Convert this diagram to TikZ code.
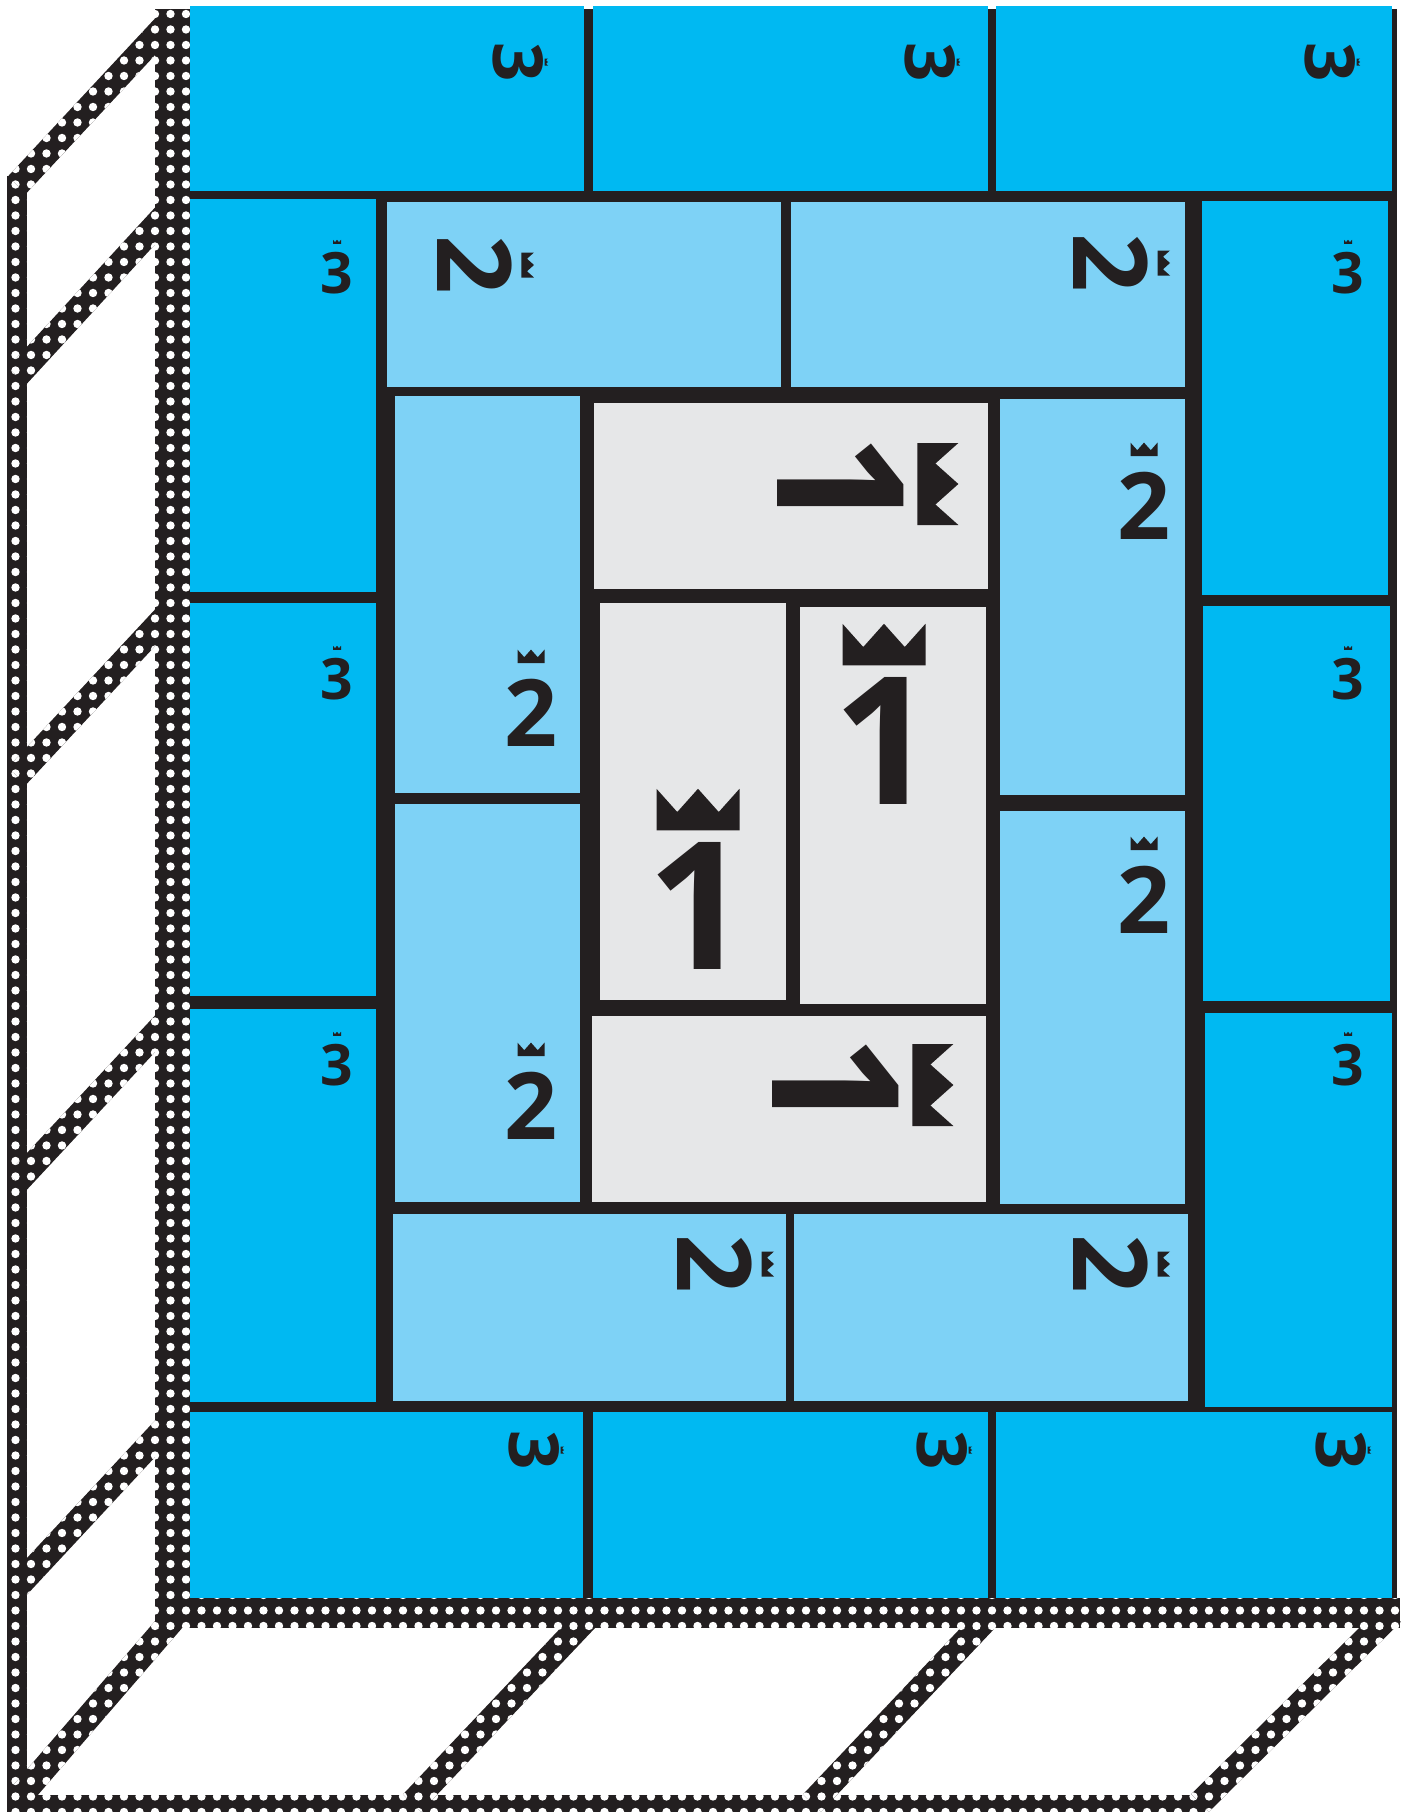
\documentclass[tikz,border=0pt]{standalone}
\usepackage{fontspec}
\newfontfamily\numfont{Open Sans}
\usetikzlibrary{calc,patterns}

\definecolor{ink}{HTML}{231F20}
\definecolor{cyanblue}{HTML}{00B9F2}
\definecolor{skyblue}{HTML}{7ED2F6}
\definecolor{palegrey}{HTML}{E6E7E8}

% white holes punched in the black rack frame
\pgfdeclarepatternformonly{holes}{\pgfqpoint{-7.7pt}{-7.7pt}}{\pgfqpoint{7.7pt}{7.7pt}}{\pgfqpoint{15.5pt}{15.5pt}}{%
  \pgfpathcircle{\pgfpointorigin}{4.2pt}\pgfusepath{fill}}

\begin{document}
\begin{tikzpicture}[
            x=1pt, y=-1pt,
            rackband/.style={preaction={fill=ink}, pattern=holes, pattern color=white},
            outerbox/.style={fill=cyanblue},
            middlebox/.style={fill=skyblue},
            innerbox/.style={fill=palegrey},
            num/.style={inner sep=0pt, text=ink},
            numthree/.style={num, font=\numfont\bfseries\fontsize{57}{57}\selectfont},
            numthreer/.style={num, font=\numfont\bfseries\fontsize{69}{69}\selectfont, rotate=-90},
            numtwo/.style={num, font=\numfont\bfseries\fontsize{93}{93}\selectfont},
            numtwor/.style={num, font=\numfont\bfseries\fontsize{103}{103}\selectfont, rotate=-90},
            numone/.style={num, font=\numfont\bfseries\fontsize{178}{178}\selectfont},
            numoner/.style={num, font=\numfont\bfseries\fontsize{177}{177}\selectfont, rotate=-90},
            crown/.pic={\fill[ink] (-0.5,0) -- (-0.5,-0.5) -- (-0.25,-0.22) -- (0,-0.5)
                -- (0.25,-0.22) -- (0.5,-0.5) -- (0.5,0) -- cycle;}
        ]
\useasboundingbox (0,0) rectangle (1409,1812);

% --- rack frame: dotted bands (start / end / half width) ---
\foreach \a/\b/\w in {
    {17,176}/{17,1812}/10pt,
    {172.5,18}/{17,185}/12.5pt, {172.5,207}/{17,376}/12.5pt,
    {172.5,609}/{17,776}/12.5pt, {172.5,1015}/{17,1182}/12.5pt,
    {172.5,1420}/{17,1587}/12.5pt, {172.5,1620}/{17,1800}/12.5pt,
    {7,1803.5}/{1207,1803.5}/8.5pt,
    {592,1613}/{412,1803}/12.5pt, {992,1613}/{812,1803}/12.5pt,
    {1392,1613}/{1200,1803}/12.5pt,
    {172.5,9}/{172.5,1628}/17.5pt, {155,1613}/{1400,1613}/15pt}
  \path[rackband] ($(\a)!\w!90:(\b)$) -- ($(\b)!\w!-90:(\a)$)
      -- ($(\b)!\w!90:(\a)$) -- ($(\a)!\w!-90:(\b)$) -- cycle;

% --- black backing behind the boxes ---
\fill[ink] (190,9) rectangle (1397,1598);

% --- outer ring ---
\fill[outerbox] (190,6) rectangle (584,191);
\fill[outerbox] (593,6) rectangle (988,191);
\fill[outerbox] (996,6) rectangle (1392,191);
\fill[outerbox] (190,1412) rectangle (583,1598);
\fill[outerbox] (593,1412) rectangle (988,1598);
\fill[outerbox] (996,1412) rectangle (1392,1598);
\fill[outerbox] (190,199) rectangle (376,592);
\fill[outerbox] (190,603) rectangle (376,996);
\fill[outerbox] (190,1009) rectangle (376,1402);
\fill[outerbox] (1202,201) rectangle (1388,595);
\fill[outerbox] (1203,606) rectangle (1390,1001);
\fill[outerbox] (1205,1013) rectangle (1392,1407);

% --- middle ring ---
\fill[middlebox] (387,202) rectangle (781,387);
\fill[middlebox] (791,202) rectangle (1185,387);
\fill[middlebox] (393,1214) rectangle (786,1401);
\fill[middlebox] (794,1214) rectangle (1188,1401);
\fill[middlebox] (395,396) rectangle (580,793);
\fill[middlebox] (395,804) rectangle (580,1202);
\fill[middlebox] (1000,399) rectangle (1185,795);
\fill[middlebox] (1000,811) rectangle (1185,1204);

% --- core ---
\fill[innerbox] (594,403) rectangle (988,589);
\fill[innerbox] (592,1016) rectangle (986,1202);
\fill[innerbox] (600,603) rectangle (786,1000);
\fill[innerbox] (800,607) rectangle (986,1004);

% --- layer numbers with crowns ---
\foreach \n/\p in {tl/{337,273}, ml/{337,679}, bl/{337,1065},
                   tr/{1348,273}, mr/{1348,679}, br/{1348,1065}}{
  \node[numthree] (three\n) at (\p) {3};
  \pic[scale=8] at ($(three\n.north)!-8pt!(three\n.center)$) {crown};
}
\foreach \n/\p in {tl/{518,62}, tm/{930,62}, tr/{1330,62},
                   bl/{534,1450}, bm/{942,1450}, br/{1341,1450}}{
  \node[numthreer] (threer\n) at (\p) {3};
  \pic[rotate=-90, scale=7] at ($(threer\n.north)!-1pt!(threer\n.center)$) {crown};
}
\foreach \n/\p in {tl/{475,265}, tr/{1111,263}, bl/{715,1264}, br/{1111,1264}}{
  \node[numtwor] (twor\n) at (\p) {2};
  \pic[rotate=-90, scale=25] at ($(twor\n.north)!-9pt!(twor\n.center)$) {crown};
}
\foreach \n/\p in {lt/{531,713}, lb/{531,1106}, rt/{1144,506}, rb/{1144,900}}{
  \node[numtwo] (two\n) at (\p) {2};
  \pic[scale=27] at ($(two\n.north)!-16pt!(two\n.center)$) {crown};
}
\foreach \n/\p in {t/{841,484}, b/{836,1085}}{
  \node[numoner] (oner\n) at (\p) {1};
  \pic[rotate=-90, scale=82] at ($(oner\n.north)!-13pt!(oner\n.center)$) {crown};
}
\foreach \n/\p in {l/{698,906}, r/{884,741}}{
  \node[numone] (one\n) at (\p) {1};
  \pic[scale=83] at ($(one\n.north)!-12pt!(one\n.center)$) {crown};
}
\end{tikzpicture}
\end{document}
